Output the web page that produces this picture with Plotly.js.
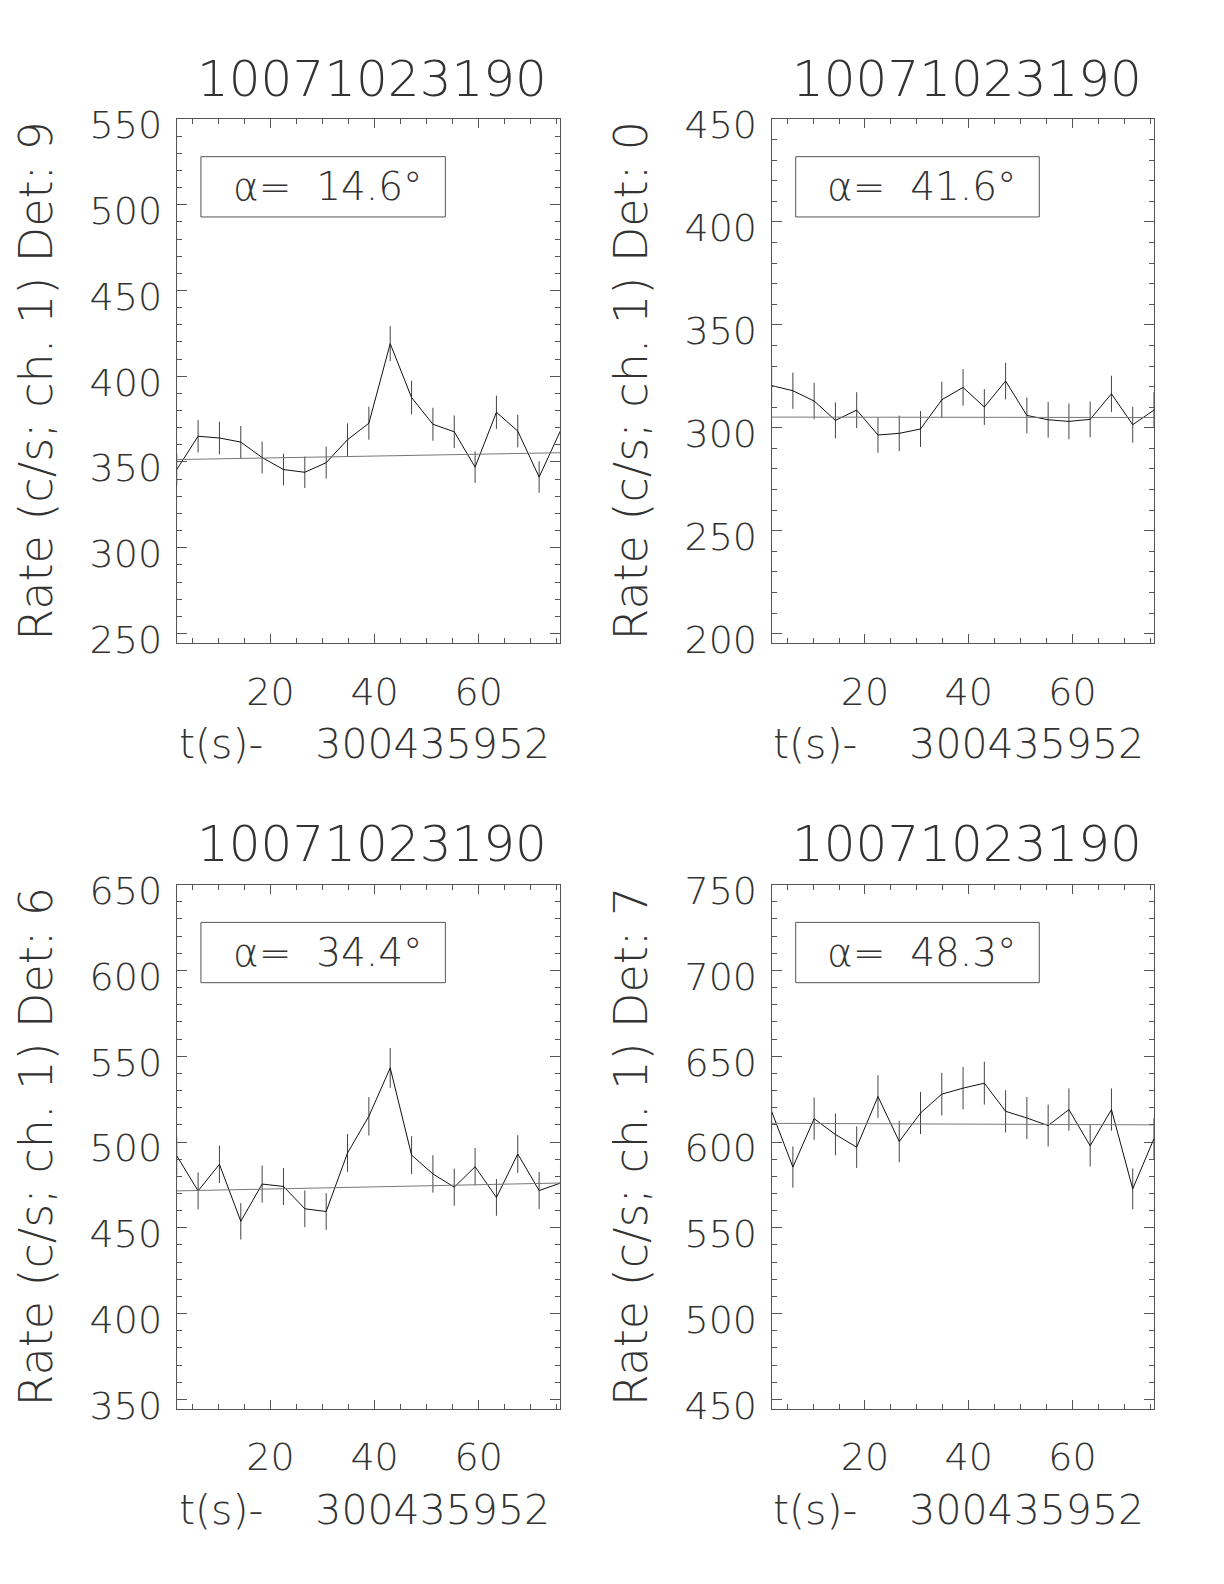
<!DOCTYPE html>
<html><head><meta charset="utf-8">
<script src="https://cdn.plot.ly/plotly-3.0.1.min.js"></script>
<style>html,body{margin:0;padding:0;background:#fff}</style>
</head><body><div id="chart" style="width:1224px;height:1584px"></div>
<script>
// ---------- data ----------
const timeSec = [2.0, 6.1, 10.2, 14.3, 18.4, 22.5, 26.6, 30.7, 34.8, 38.9, 43.0, 47.1, 51.2, 55.3, 59.3, 63.4, 67.5, 71.6, 75.7];
const bgTime = [2.0, 75.7];
const burstId = '10071023190';
const timeLabel = 't(s)-\u00a0\u00a0\u00a0\u00a0300435952';
const detectors = ['9', '0', '6', '7'];
const alphaDeg = ['14.6', '41.6', '34.4', '48.3'];
const xTickVals = [20, 40, 60];

const rateDet9 = [345.6, 365.0, 364.0, 361.6, 352.6, 345.6, 344.0, 349.6, 363.0, 372.6, 419.0, 387.6, 372.0, 367.6, 347.0, 379.0, 368.0, 341.2, 368.2];
const errDet9  = [9.2, 9.5, 9.5, 9.4, 9.3, 9.2, 9.2, 9.3, 9.5, 9.6, 10.2, 9.8, 9.6, 9.5, 9.2, 9.7, 9.5, 9.2, 9.5];
const bgDet9   = [351.4, 355.4];

const rateDet0 = [320.5, 318.0, 313.0, 303.6, 308.6, 296.5, 297.3, 299.4, 313.6, 319.6, 310.1, 322.7, 306.0, 303.9, 303.1, 304.1, 316.5, 301.5, 308.6];
const errDet0  = [8.9, 8.8, 8.8, 8.7, 8.7, 8.6, 8.6, 8.7, 8.8, 8.9, 8.7, 8.9, 8.7, 8.7, 8.7, 8.7, 8.8, 8.7, 8.7];
const bgDet0   = [305.2, 305.0];

const rateDet6 = [492.0, 471.5, 487.0, 453.8, 475.5, 474.1, 461.1, 459.5, 493.6, 515.0, 543.2, 492.4, 481.4, 473.7, 485.6, 467.7, 493.0, 471.7, 476.1];
const errDet6  = [11.0, 10.8, 10.9, 10.6, 10.8, 10.8, 10.7, 10.7, 11.0, 11.2, 11.6, 11.0, 10.9, 10.8, 10.9, 10.7, 11.0, 10.8, 10.8];
const bgDet6   = [471.5, 476.1];

const rateDet7 = [617.9, 585.4, 613.6, 604.4, 597.0, 626.5, 600.3, 616.9, 627.9, 631.4, 634.3, 617.9, 614.0, 609.6, 618.9, 597.8, 618.9, 572.7, 602.0];
const errDet7  = [12.3, 12.0, 12.3, 12.2, 12.1, 12.4, 12.1, 12.3, 12.4, 12.4, 12.5, 12.3, 12.3, 12.2, 12.3, 12.1, 12.3, 11.9, 12.1];
const bgDet7   = [610.9, 610.0];

// ---------- figure ----------
const FONT = 'DejaVu Sans, sans-serif';
const TXT = '#333';
const AX = '#555';
const panels = [
  {rate: rateDet9, err: errDet9, bg: bgDet9, xd: [0.1444, 0.4579], yd: [0.5941, 0.9249], yr: [244.5, 550]},
  {rate: rateDet0, err: errDet0, bg: bgDet0, xd: [0.6304, 0.9428], yd: [0.5941, 0.9249], yr: [195.5, 450]},
  {rate: rateDet6, err: errDet6, bg: bgDet6, xd: [0.1444, 0.4579], yd: [0.1106, 0.4415], yr: [344.5, 650]},
  {rate: rateDet7, err: errDet7, bg: bgDet7, xd: [0.6304, 0.9428], yd: [0.1106, 0.4415], yr: [444.5, 750]}
];

const traces = [];
const layout = {
  width: 1224, height: 1584,
  margin: {l: 0, r: 0, t: 0, b: 0},
  paper_bgcolor: '#fff', plot_bgcolor: '#fff',
  showlegend: false,
  font: {family: FONT, color: TXT},
  annotations: [], shapes: []
};

panels.forEach((p, i) => {
  const n = i === 0 ? '' : String(i + 1);
  const xa = 'x' + n, ya = 'y' + n;
  traces.push({
    type: 'scatter', mode: 'lines', x: timeSec, y: p.rate, xaxis: xa, yaxis: ya,
    line: {color: '#111', width: 1},
    error_y: {type: 'data', array: p.err, visible: true, width: 0, thickness: 1, color: '#444'},
    hoverinfo: 'skip'
  });
  traces.push({
    type: 'scatter', mode: 'lines', x: bgTime, y: p.bg, xaxis: xa, yaxis: ya,
    line: {color: '#777', width: 1}, hoverinfo: 'skip'
  });
  const common = {
    ticks: 'inside', tickcolor: AX, showline: true, linecolor: AX, linewidth: 1,
    mirror: 'ticks', showgrid: false, zeroline: false, automargin: false,
    tickfont: {family: FONT, size: 38, color: TXT, weight: 200}
  };
  layout['xaxis' + n] = Object.assign({}, common, {
    domain: p.xd, anchor: ya, range: [bgTime[0], bgTime[1]],
    tickmode: 'array', tickvals: xTickVals, ticktext: xTickVals.map(String), ticklen: 9,
    minor: {dtick: 5, tick0: 0, ticks: 'inside', ticklen: 5, tickcolor: AX, showgrid: false},
    ticklabelstandoff: 15
  });
  layout['yaxis' + n] = Object.assign({}, common, {
    domain: p.yd, anchor: xa, range: p.yr,
    tick0: 0, dtick: 50, ticklen: 10,
    minor: {dtick: 10, tick0: 0, ticks: 'inside', ticklen: 5, tickcolor: AX, showgrid: false},
    ticklabelstandoff: 6, ticklabelshift: 6
  });
  const xdom = xa + ' domain', ydom = ya + ' domain';
  layout.annotations.push({
    text: burstId, xref: xdom, yref: 'paper', x: 0.51, y: p.yd[1] + 0.0254,
    xanchor: 'center', yanchor: 'middle', showarrow: false,
    font: {family: FONT, size: 50, color: TXT, weight: 200}
  });
  layout.annotations.push({
    text: 'Rate (c/s; ch. 1) Det: ' + detectors[i], xref: 'paper', yref: ydom,
    x: (p.xd[0] * 1224 - 141) / 1224, y: 0.5, xanchor: 'center', yanchor: 'middle',
    textangle: -90, showarrow: false,
    font: {family: FONT, size: 46, color: TXT, weight: 200}
  });
  layout.annotations.push({
    text: timeLabel, xref: xdom, yref: 'paper', x: 0.49, y: p.yd[0] - 0.0637,
    xanchor: 'center', yanchor: 'middle', showarrow: false,
    font: {family: FONT, size: 41, color: TXT, weight: 200}
  });
  layout.shapes.push({
    type: 'rect', xref: xdom, yref: ydom, x0: 0.063, x1: 0.70, y0: 0.813, y1: 0.928,
    line: {color: '#555', width: 1}, fillcolor: 'rgba(0,0,0,0)'
  });
  layout.annotations.push({
    text: '\u03b1=\u00a0\u00a0' + alphaDeg[i] + '\u00b0', xref: xdom, yref: ydom,
    x: 0.393, y: 0.871, xanchor: 'center', yanchor: 'middle', showarrow: false,
    font: {family: FONT, size: 39, color: TXT, weight: 200}
  });
});

Plotly.newPlot('chart', traces, layout, {staticPlot: true, displayModeBar: false});
</script>
</body></html>
